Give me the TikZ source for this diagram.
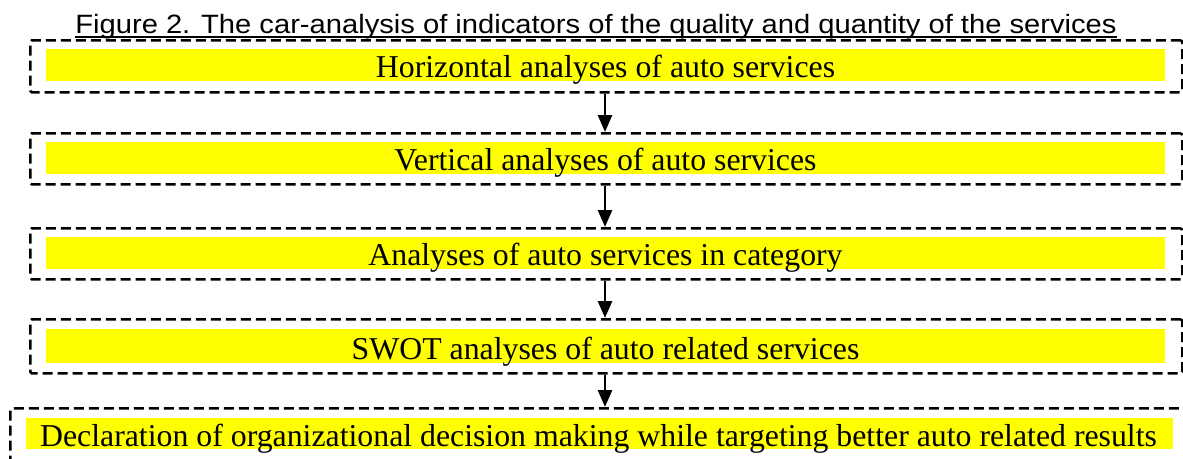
\documentclass[tikz,border=0pt]{standalone}
\usepackage{fontspec}
\setmainfont{Liberation Serif}
\newfontfamily\titlefont[FakeStretch=1.1]{Liberation Sans}
\usetikzlibrary{arrows.meta,calc}
\definecolor{hl}{RGB}{255,255,0}
\begin{document}
\begin{tikzpicture}[x=1pt,y=-1pt,
  frame/.style={draw, dash pattern=on 10pt off 5pt, line width=2.7pt, rounded corners=1.5pt, inner sep=0pt, anchor=north west},
  band/.style={fill=hl, inner sep=0pt, anchor=north west},
  lbl/.style={font=\fontsize{31.8}{34}\selectfont, inner sep=0pt, anchor=base},
  flow/.style={-{Triangle[width=14pt,length=17pt]}, line width=2.7pt}]
\useasboundingbox (0,0) rectangle (1183,458);
% frames
\node[frame, minimum width=1152pt, minimum height=52pt] (f1) at (29,39) {};
\node[frame, minimum width=1152pt, minimum height=51pt] (f2) at (29,132) {};
\node[frame, minimum width=1152pt, minimum height=51pt] (f3) at (29,227) {};
\node[frame, minimum width=1152pt, minimum height=54pt] (f4) at (29,318) {};
\node[frame, minimum width=1200pt, minimum height=80pt] (f5) at (9,407) {};
% yellow bands
\node[band, minimum width=1119pt, minimum height=32pt] (y1) at (46,49) {};
\node[band, minimum width=1119pt, minimum height=32pt] (y2) at (46,142) {};
\node[band, minimum width=1119pt, minimum height=32pt] (y3) at (46,237) {};
\node[band, minimum width=1119pt, minimum height=34pt] (y4) at (46,329) {};
\node[band, minimum width=1147pt, minimum height=31pt] (y5) at (26,418) {};
% labels
\node[lbl] (t1) at (605.5,77.5) {Horizontal analyses of auto services};
\node[lbl] (t2) at (605.5,170.5) {Vertical analyses of auto services};
\node[lbl] (t3) at (605.5,265.5) {Analyses of auto services in category};
\node[lbl] (t4) at (605.5,359.5) {SWOT analyses of auto related services};
\node[lbl] (t5) at (598.5,446) {Declaration of organizational decision making while targeting better auto related results};
% title
\node[font=\titlefont\fontsize{26.5}{30}\selectfont, anchor=base, inner sep=0pt] (title) at (596,33) {Figure 2. The car-analysis of indicators of the quality and quantity of the services};
\draw[line width=1.6pt] ($(title.base west)+(0,4)$) -- ($(title.base east)+(0,4)$);
% arrows
\coordinate (ax) at (605,0);
\draw[flow] (f1.south -| ax) -- (f2.north -| ax);
\draw[flow] (f2.south -| ax) -- (f3.north -| ax);
\draw[flow] (f3.south -| ax) -- (f4.north -| ax);
\draw[flow] (f4.south -| ax) -- (f5.north -| ax);
\end{tikzpicture}
\end{document}
